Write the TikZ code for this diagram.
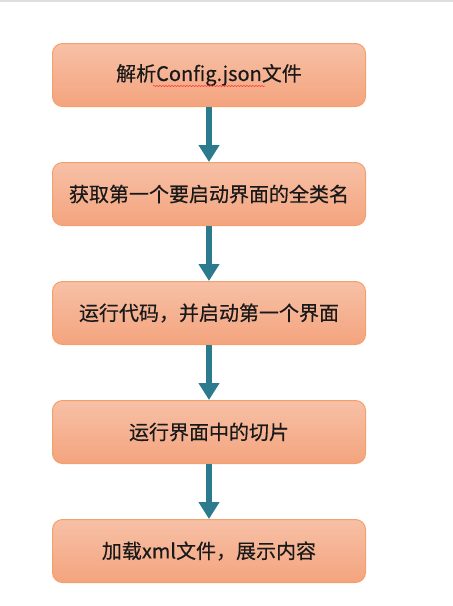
\documentclass[tikz,border=0pt]{standalone}
\usepackage{fontspec}
\setmainfont{Noto Sans CJK SC}[FakeBold=0.4]
\usetikzlibrary{arrows.meta,positioning,decorations.pathmorphing}
\definecolor{boxtop}{HTML}{F7C0A6}
\definecolor{boxbot}{HTML}{F4A47E}
\definecolor{boxline}{HTML}{F2A06C}
\definecolor{arrowteal}{HTML}{2B7A8D}
\begin{document}
\begin{tikzpicture}[x=1pt,y=1pt,line join=round,
		stepbox/.style={draw=boxline,line width=1pt,rounded corners=10pt,top color=boxtop,bottom color=boxbot,
			minimum width=313pt,minimum height=63pt,font=\fontsize{20}{24}\selectfont,text=black!90},
		flow/.style={arrowteal,line width=6pt,-{Triangle[width=20pt,length=17pt]}}]
			\useasboundingbox (0,0) rectangle (453,-606);
			\fill[gray!25] (0,0) rectangle (453,-2);
			\node[stepbox] (parse) at (209,-75) {解析Config.json文件};
			\node[stepbox,below=55pt of parse] (getname) {获取第一个要启动界面的全类名};
			\node[stepbox,below=55pt of getname] (run) {运行代码，并启动第一个界面};
			\node[stepbox,below=55pt of run] (slice) {运行界面中的切片};
			\node[stepbox,below=55pt of slice] (load) {加载xml文件，展示内容};
			\draw[red!80,line width=0.5pt,decorate,decoration={snake,amplitude=0.6pt,segment length=3pt}] (153,-86) -- (265,-86);
			\draw[flow] (parse) -- (getname);
			\draw[flow] (getname) -- (run);
			\draw[flow] (run) -- (slice);
			\draw[flow] (slice) -- (load);
		\end{tikzpicture}
\end{document}
